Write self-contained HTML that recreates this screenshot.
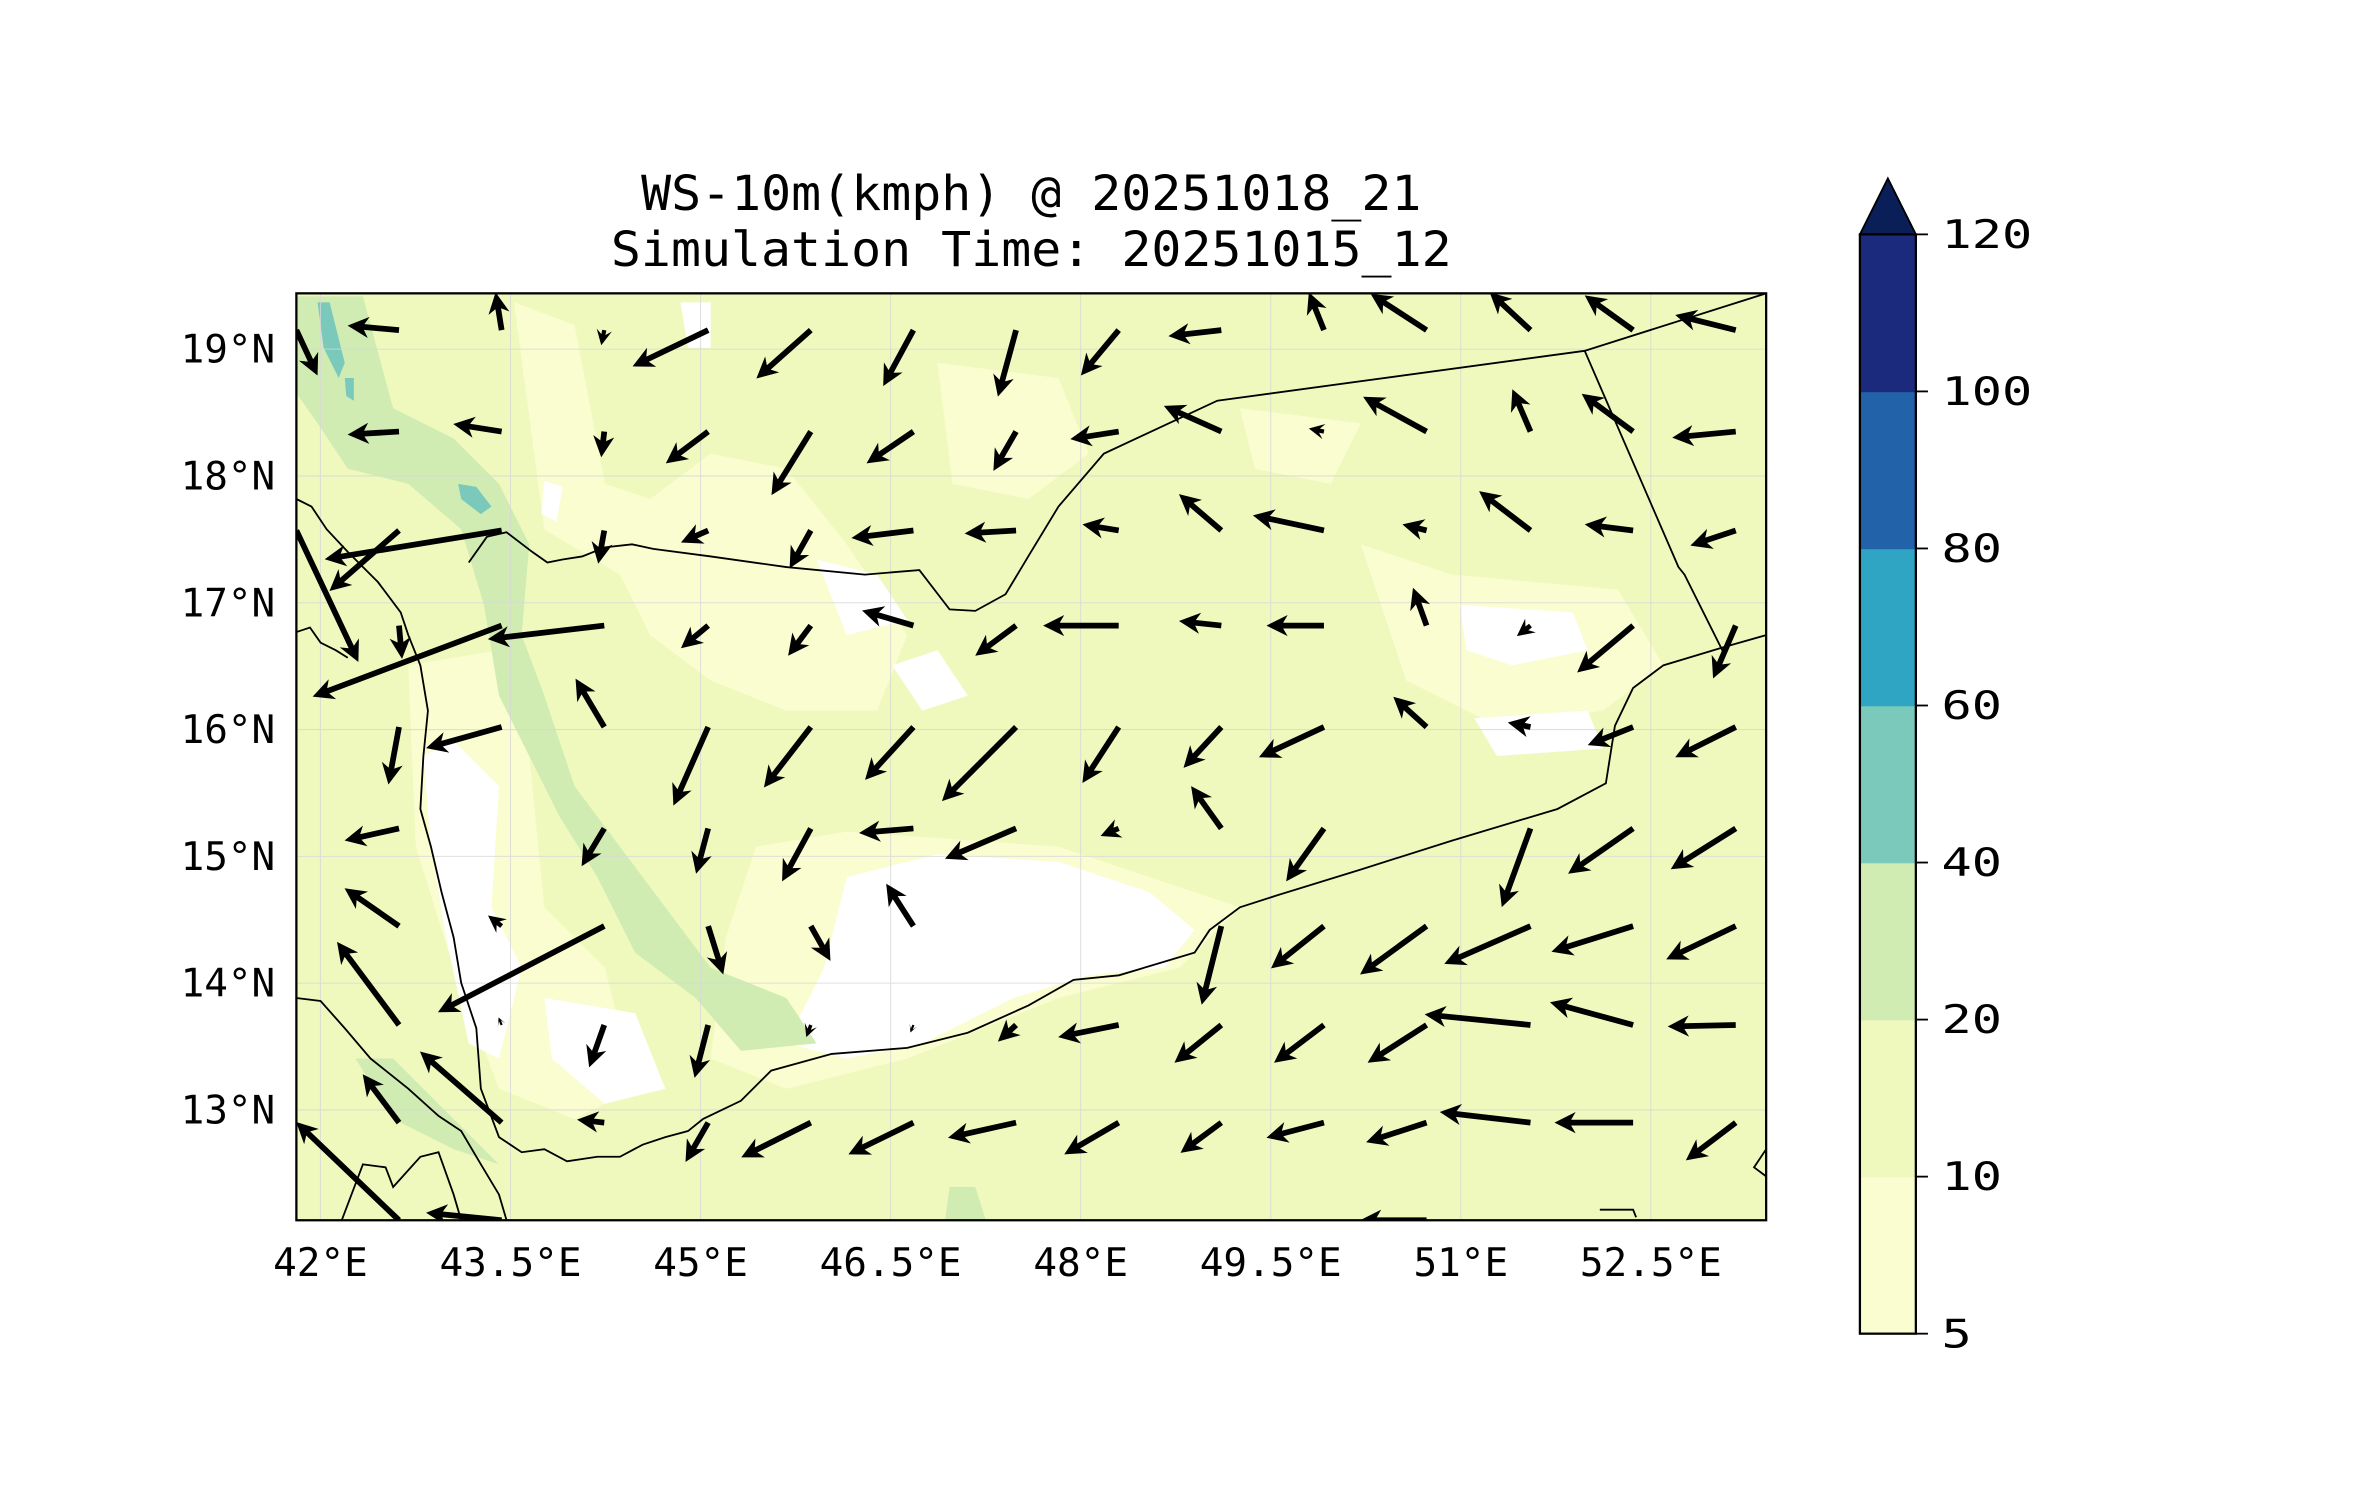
<!DOCTYPE html>
<html><head><meta charset="utf-8"><style>
html,body{margin:0;padding:0;background:#fff;}
svg{display:block;}
text{font-family:"DejaVu Sans Mono","Liberation Mono",monospace;fill:#000;}
</style></head><body>
<svg id="fig" width="2371" height="1500" viewBox="0 0 1568 992" preserveAspectRatio="none" xmlns="http://www.w3.org/2000/svg">
<rect width="1568" height="992" fill="#fff"/>
<text x="682" y="139" font-size="32" text-anchor="middle" textLength="516" lengthAdjust="spacingAndGlyphs">WS-10m(kmph) @ 20251018_21</text>
<text x="682" y="176" font-size="32" text-anchor="middle" textLength="556" lengthAdjust="spacingAndGlyphs">Simulation Time: 20251015_12</text>
<defs><clipPath id="mapclip"><rect x="196" y="194" width="972" height="613"/></clipPath></defs>
<g id="map" clip-path="url(#mapclip)">
<rect x="196" y="194" width="972" height="613" fill="#f0f9bd"/>
<g fill="#fafdd0">
<path d="M340,200 L380,215 L400,320 L430,330 L470,300 L520,310 L560,360 L600,420 L580,470 L520,470 L470,450 L430,420 L410,380 L360,350 Z"/>
<path d="M270,440 L330,430 L350,500 L360,600 L400,640 L420,720 L380,740 L330,720 L300,640 L275,560 Z"/>
<path d="M500,560 L560,550 L700,560 L820,600 L780,640 L700,660 L600,700 L520,720 L470,700 L480,620 Z"/>
<path d="M900,360 L960,380 L1070,390 L1100,440 L1060,470 L990,480 L930,450 Z"/>
<path d="M620,240 L700,250 L720,300 L680,330 L630,320 Z"/>
<path d="M820,270 L900,280 L880,320 L830,310 Z"/>
</g>
<g fill="#fff">
<path d="M560,580 L620,565 L700,570 L760,590 L790,615 L770,640 L720,645 L670,660 L610,690 L560,700 L520,690 L545,640 Z"/>
<path d="M280,500 L300,490 L330,520 L325,600 L345,640 L330,700 L310,690 L295,620 L285,560 Z"/>
<path d="M965,400 L1040,405 L1050,430 L1000,440 L970,430 Z"/>
<path d="M360,660 L420,670 L440,720 L400,730 L365,700 Z"/>
<path d="M590,440 L620,430 L640,460 L610,470 Z"/>
<path d="M975,475 L1050,470 L1060,495 L990,500 Z"/>
<path d="M360,318 L372,322 L368,345 L358,340 Z"/>
<path d="M450,200 L470,200 L470,230 L455,230 Z"/>
<path d="M540,370 L580,380 L600,410 L560,420 Z"/>
</g>
<g fill="#d0ecb3">
<path d="M196,196 L240,196 L260,270 L300,290 L330,320 L350,360 L345,420 L360,460 L380,520 L410,560 L440,600 L470,640 L520,660 L540,690 L490,695 L460,660 L420,630 L395,580 L370,540 L350,500 L330,460 L320,400 L305,350 L270,320 L230,310 L210,280 L196,260 Z"/>
<path d="M235,700 L260,700 L300,740 L330,770 L300,760 L260,740 Z"/>
<path d="M628,785 L645,785 L652,807 L625,807 Z"/>
</g>
<g fill="#7ac9bb">
<path d="M210,200 L218,200 L228,240 L224,250 L214,230 Z"/>
<path d="M303,320 L315,322 L325,335 L318,340 L305,330 Z"/>
<path d="M228,250 L234,250 L234,265 L229,262 Z"/>
</g>
<g id="grid" stroke="#d8d8d8" stroke-width="0.7" opacity="0.8"></g>
<g fill="none" stroke="#000" stroke-width="1.2">
<polyline points="310,372 322,355 335,352 352,365 362,372 372,370 385,368 400,362 418,360 432,363 470,368 520,375 572,380 608,377 628,403 645,404 665,393 680,368 700,335 730,300 805,265 1048,232 1168,194"/>
<polyline points="1048,232 1110,375 1114,380 1140,432"/>
<polyline points="196,330 206,335 216,350 230,365 250,385 265,405 270,420 278,440 283,470 280,500 278,535 285,560 292,590 300,620 305,650 315,680 318,720 330,752 345,762 360,760 375,768 395,765 410,765 425,757 440,752 455,748 465,740 490,728 510,708 550,697 600,693 640,683 680,665 710,648 740,645 790,630 800,615 820,600 845,592 900,575 960,556 1030,535 1062,518 1068,480 1080,455 1100,440 1140,428 1168,420"/>
<polyline points="196,418 205,415 212,425 222,430 230,435"/>
<polyline points="196,660 212,662 228,680 245,700 270,720 290,738 305,748 318,770 330,790 335,807"/>
<polyline points="226,807 240,770 255,772 260,785 278,765 290,762 300,790 305,807"/>
<polyline points="1058,800 1080,800 1082,805"/>
<polyline points="1168,760 1160,772 1168,778"/>
</g>
<g id="arrows"></g>
</g>
<rect x="196" y="194" width="972" height="613" fill="none" stroke="#000" stroke-width="1.5"/>
<g id="axes"></g>
<g id="cbar"></g>
</svg>
<script>
// map extents (degrees) and pixel frame
const lonMin = 41.81, lonMax = 53.41, latMin = 12.13, latMax = 19.44;
const X0 = 196, X1 = 1168, Y0 = 194, Y1 = 807;
function xOf(lon){return X0 + (lon - lonMin) / (lonMax - lonMin) * (X1 - X0);}
function yOf(lat){return Y1 - (lat - latMin) / (latMax - latMin) * (Y1 - Y0);}
// axis ticks
const lonTicks = [42, 43.5, 45, 46.5, 48, 49.5, 51, 52.5];
const lonLabels = ["42°E","43.5°E","45°E","46.5°E","48°E","49.5°E","51°E","52.5°E"];
const latTicks = [19, 18, 17, 16, 15, 14, 13];
const latLabels = ["19°N","18°N","17°N","16°N","15°N","14°N","13°N"];
// wind grid (lon/lat of vector tails)
const vecLons = [41.81,42.62,43.43,44.24,45.06,45.87,46.68,47.49,48.30,49.11,49.92,50.73,51.55,52.36,53.17];
const vecLats = [19.15,18.35,17.57,16.82,16.02,15.22,14.45,13.67,12.90,12.13];
// U (east) and V (north) components, rows follow vecLats, columns vecLons
const U = [
 [14,-34,-4,-2,-50,-36,-20,-12,-25,-35,-10,-37,-27,-32,-40],
 [0,-34,-32,-2,-28,-26,-31,-15,-32,-38,-10,-42,-12,-34,-42],
 [41,-46,-117,-4,-18,-14,-41,-34,-24,-28,-47,-16,-34,-32,-30],
 [0,2,-125,-77,-18,-15,-34,-27,-50,-28,-38,-9,-9,-37,-15],
 [0,-7,-50,-19,-23,-31,-32,-49,-24,-25,-43,-22,-15,-30,-40],
 [0,-36,0,-15,-8,-19,-36,-47,-12,-20,-25,0,-19,-43,-43],
 [0,-36,-9,-110,10,13,-18,0,0,-13,-35,-44,-57,-54,-46],
 [0,-41,-2,-10,-9,-3,-2,-12,-40,-31,-33,-39,-70,-55,-45],
 [0,-24,-54,-18,-15,-46,-43,-45,-36,-27,-38,-40,-60,-52,-33],
 [0,-68,-50,0,0,0,0,0,0,0,0,-44,0,0,0]
];
const V = [
 [-30,3,25,-10,-24,-32,-37,-44,-30,-4,25,24,25,23,10],
 [0,-2,5,-17,-21,-42,-21,-26,-5,17,2,23,28,25,-4],
 [-87,-40,-19,-22,-8,-25,-5,-2,4,24,10,4,26,4,-10],
 [0,-22,-47,-9,-15,-20,10,-20,0,3,0,25,-7,-31,-35],
 [0,-38,-14,32,-52,-40,-35,-49,-37,-27,-20,20,3,-12,-20],
 [0,-8,0,-25,-30,-35,-3,-20,-5,28,-35,0,-52,-30,-27],
 [0,25,7,-57,-32,-23,28,0,0,-52,-28,-32,-25,-17,-22],
 [0,55,5,-28,-35,-8,-5,-11,-8,-25,-25,-25,7,15,-1],
 [0,32,47,2,-26,-23,-21,-10,-21,-20,-10,-13,7,0,-25],
 [0,65,5,0,0,0,0,0,0,0,0,0,0,0,0]
];
const levels=[5,10,20,40,60,80,100,120];
const levelColors=['#fafdd0','#f0f9bd','#d0ecb3','#7ac9bb','#2fa4c3','#2262a9','#1c2a7e'];
const extendColor='#0a1f58';
const NS='http://www.w3.org/2000/svg';
function mk(tag, attrs, parent){const e=document.createElementNS(NS,tag);for(const k in attrs)e.setAttribute(k,attrs[k]);parent.appendChild(e);return e;}
const grid=document.getElementById('grid'), axes=document.getElementById('axes');
lonTicks.forEach((lon,i)=>{
  const x=xOf(lon);
  const gl=mk('line',{x1:x,y1:Y0,x2:x,y2:Y1},grid);
  
  
  const t=mk('text',{x:x,y:844,'font-size':26,'text-anchor':'middle'},axes);
  t.textContent=lonLabels[i];
  
  
});
latTicks.forEach((lat,i)=>{
  const y=yOf(lat);
  const gl=mk('line',{x1:X0,y1:y,x2:X1,y2:y},grid);
  
  
  const t=mk('text',{x:182,y:y+9,'font-size':26,'text-anchor':'end'},axes);
  t.textContent=latLabels[i];
  
  
});
const arrows=document.getElementById('arrows');
const pxPerUnit=1.0;
vecLats.forEach((lat,r)=>{
  vecLons.forEach((lon,c)=>{
    const u=U[r][c], v=V[r][c];
    const len=Math.hypot(u,v)*pxPerUnit;
    if(len<1) return;
    const x=xOf(lon), y=yOf(lat);
    const ang=Math.atan2(-v,u)*180/Math.PI;
    const g=mk('g',{transform:'translate('+x+','+y+') rotate('+ang+')'},arrows);
    
    
    let hl=14, hw=7, sw=1.9;
    if(len<hl){const s=len/hl;hl=len;hw*=s;sw*=s;}
    mk('path',{d:'M0,'+(-sw)+' L'+(len-hl+3)+','+(-sw)+' L'+(len-hl)+','+(-hw)+' L'+len+',0 L'+(len-hl)+','+hw+' L'+(len-hl+3)+','+sw+' L0,'+sw+' Z',fill:'#000'},g);
  });
});
const cbar=document.getElementById('cbar');
const CB_X=1230, CB_W=37, CB_TOP=155, CB_BOT=882;
function cbY(i){return CB_BOT-(CB_BOT-CB_TOP)*i/(levels.length-1);}
levelColors.forEach((col,i)=>{
  const r=mk('rect',{x:CB_X,y:cbY(i+1),width:CB_W,height:cbY(i)-cbY(i+1)+0.5,fill:col},cbar);
  
  
});
const tri=mk('path',{d:'M'+CB_X+','+CB_TOP+' L'+(CB_X+CB_W/2)+',118 L'+(CB_X+CB_W)+','+CB_TOP+' Z',fill:extendColor,stroke:'#000','stroke-width':1.2},cbar);


const cbo=mk('rect',{x:CB_X,y:CB_TOP,width:CB_W,height:CB_BOT-CB_TOP,fill:'none',stroke:'#000','stroke-width':1.5},cbar);


levels.forEach((lv,i)=>{
  const y=cbY(i);
  const tk=mk('line',{x1:CB_X+CB_W,y1:y,x2:CB_X+CB_W+8,y2:y,stroke:'#000','stroke-width':1.2},cbar);
  
  
  const s=String(lv);
  const t=mk('text',{x:1284,y:y+9,'font-size':26,textLength:s.length*20,lengthAdjust:'spacingAndGlyphs'},cbar);
  t.textContent=s;
  
  
});
</script>
</body></html>
